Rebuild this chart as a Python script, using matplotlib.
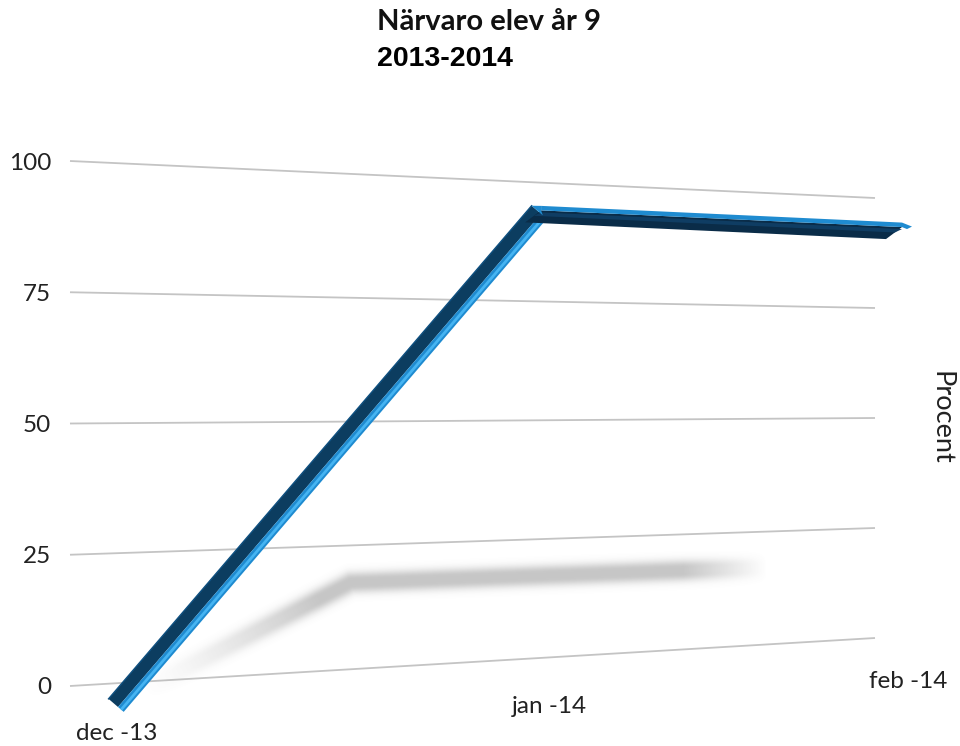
import numpy as np
import matplotlib
matplotlib.use("Agg")
import matplotlib.pyplot as plt
from matplotlib.patches import Polygon

# ---------------- data ----------------
categories = ["dec -13", "jan -14", "feb -14"]
values = [0, 92, 89]
y_ticks = [0, 25, 50, 75, 100]
title = "Närvaro elev år 9"
subtitle = "2013-2014"
y_label = "Procent"

# ---------------- layout (pixel space, perspective) ----------------
W, H = 960, 746
WALL_X = (70.0, 875.0)          # back wall left/right
WALL_Y0 = (686.0, 638.0)        # value 0 on back wall, left/right
WALL_S = (5.25, 4.40)           # px per unit on back wall, left/right
CAT_X = (118.0, 902.0)          # first/last category x on front plane
DEPTH_RATIO = 0.853             # perspective foreshortening along x
FRONT_Y0 = (707.0, 656.0)
FRONT_S = (5.39, 4.78)
LABEL_DX = [-1, 8, 6]
LABEL_DY = [26, 27.5, 26]

GRID_C = "#c4c4c4"
BLUE = "#1f8bd0"
BLUE_HI = "#46b4f2"
DARK = "#0c3d60"
DARK2 = "#0a2c48"
TXT = "#222222"


def lerp(a, b, t):
    return a + (b - a) * t


def wall(x, v):
    t = (x - WALL_X[0]) / (WALL_X[1] - WALL_X[0])
    return lerp(WALL_Y0[0], WALL_Y0[1], t) - v * lerp(WALL_S[0], WALL_S[1], t)


def cat_x(i, n):
    t = i / (n - 1)
    f = t / (t + DEPTH_RATIO * (1 - t))
    return lerp(CAT_X[0], CAT_X[1], f)


def front(x, v):
    t = (x - CAT_X[0]) / (CAT_X[1] - CAT_X[0])
    return lerp(FRONT_Y0[0], FRONT_Y0[1], t) - v * lerp(FRONT_S[0], FRONT_S[1], t)


def shadow(x, v):
    k = 2.07 - (x - 540) * 0.001528
    m = 1.01 - (x - 540) * 0.000167
    return x - v * k, front(x, 0) - 4 - v * m


fig = plt.figure(figsize=(W / 100, H / 100), dpi=100)
ax = fig.add_axes([0, 0, 1, 1])
ax.set_xlim(0, W)
ax.set_ylim(H, 0)
ax.axis("off")

# gridlines + tick labels
for v in y_ticks:
    xs = np.array(WALL_X)
    ys = np.array([wall(x, v) for x in xs])
    ax.plot(xs, ys, color=GRID_C, lw=1.3, zorder=1, solid_capstyle="butt")
    ax.text(51, ys[0] + 2, str(v), ha="right", va="center", fontsize=17.5,
            family="Lato", color=TXT)

n = len(values)
X = np.array([cat_x(i, n) for i in range(n)])
P = np.array([[X[i], front(X[i], values[i])] for i in range(n)])

# ---- soft shadow rendered as an image from the projected data ----
S = np.array([shadow(X[i], values[i]) for i in range(n)])
sx0, sx1, sy0, sy1 = 80, 830, 520, 730
gx, gy = np.meshgrid(np.arange(sx0, sx1) + 0.5, np.arange(sy0, sy1) + 0.5)
best_d = np.full(gx.shape, np.inf)
best_p = np.zeros(gx.shape)
for i in range(n - 1):
    a, b = S[i], S[i + 1]
    ab = b - a
    t = ((gx - a[0]) * ab[0] + (gy - a[1]) * ab[1]) / (ab @ ab)
    tc = np.clip(t, 0, 1)
    d = np.hypot(gx - (a[0] + tc * ab[0]), gy - (a[1] + tc * ab[1]))
    upd = d < best_d
    best_d[upd] = d[upd]
    best_p[upd] = (i + t[upd]) / (n - 1)
prof = np.clip((best_p - 0.05) / 0.38, 0, 1) ** 1.3 * np.clip((1.0 - best_p) / 0.1, 0, 1)
dd = np.maximum(best_d - 3.0, 0)
alpha = np.exp(-dd ** 2 / (2 * 5.5 ** 2)) * prof * 0.4
img = np.zeros(gx.shape + (4,))
img[..., :3] = 0.45
img[..., 3] = alpha
ax.imshow(img, extent=(sx0, sx1, sy1, sy0), origin="upper", interpolation="bilinear",
          zorder=2, aspect="auto")

# ribbon: rising segment
p0, p1, p2 = P[0], P[1], P[2]
u = (p1 - p0) / np.linalg.norm(p1 - p0)
nrm = np.array([-u[1], u[0]])  # lower-right
if nrm[0] < 0:
    nrm = -nrm
dark_w, blue_w = 12.5, 7.5
q0, q1 = p0 - nrm * dark_w, p1 - nrm * dark_w
ax.add_patch(Polygon([p0, p1, q1, q0], closed=True, fc=DARK, ec="none", zorder=4))
b0, b1 = p0 + nrm * blue_w, p1 + nrm * blue_w
ax.add_patch(Polygon([p0, p1, b1, b0], closed=True, fc=BLUE, ec="none", zorder=4))
h0, h1 = p0 + nrm * blue_w * 0.55, p1 + nrm * blue_w * 0.55
ax.plot([h0[0], h1[0]], [h0[1], h1[1]], color=BLUE_HI, lw=2.0, zorder=4,
        solid_capstyle="butt")
ax.plot([q0[0], q1[0]], [q0[1], q1[1]], color="#0f5080", lw=1.0, zorder=4)

# ribbon: flat segment
top = np.array([0, -8.0])
mid = np.array([0, -3.5])
bot = np.array([-16.0, 12.0])
ax.add_patch(Polygon([p1 + mid, p2 + mid, p2 + mid + bot, p1 + mid + bot],
                     closed=True, fc=DARK2, ec="none", zorder=5))
ax.add_patch(Polygon([p1 + mid + np.array([0, 2]), p2 + mid + np.array([0, 2]),
                      p2 + mid + bot * 0.45, p1 + mid + bot * 0.45],
                     closed=True, fc="#0f3d63", ec="none", zorder=5))
ax.add_patch(Polygon([p1 + top, p2 + top, p2 + np.array([10, -4.0]),
                      p2 + mid + np.array([5, 2.0]), p2 + mid, p1 + mid],
                     closed=True, fc=BLUE, ec="none", zorder=6))
# corner bevel
ax.add_patch(Polygon([q1, p1 + top, p1 + mid, p1 + nrm * blue_w * 0.3], closed=True,
                     fc=BLUE, ec="none", zorder=6))

# category labels
for i, c in enumerate(categories):
    ax.text(X[i] + LABEL_DX[i], front(X[i], 0) + LABEL_DY[i], c, ha="center",
            va="center", fontsize=17.5, family="Lato", color=TXT)

ax.text(941, 418, y_label, rotation=-90, ha="center", va="center", fontsize=19.5,
        family="Lato", color=TXT)

ax.text(377, 22, title, ha="left", va="center", fontsize=21, family="Lato",
        fontweight="bold", color="#111111")
ax.text(377, 59, subtitle, ha="left", va="center", fontsize=20.5,
        family="Liberation Sans", fontweight="bold", color="#000000")

fig.savefig("out.png", dpi=100)
